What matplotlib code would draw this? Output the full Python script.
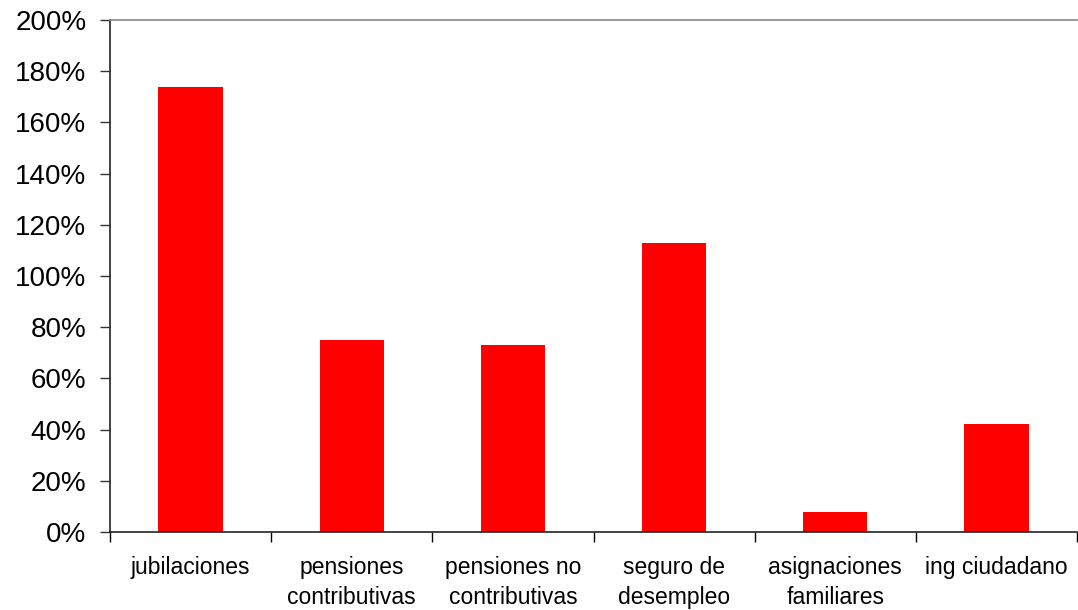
import matplotlib
matplotlib.use("Agg")
import matplotlib.pyplot as plt
from matplotlib.ticker import FuncFormatter, MultipleLocator, FixedLocator
import numpy as np

categories = ["jubilaciones", "pensiones\ncontributivas", "pensiones no\ncontributivas",
              "seguro de\ndesempleo", "asignaciones\nfamiliares", "ing ciudadano"]
values = [174, 75, 73, 113, 8, 42]

plt.rcParams['font.family'] = ['Liberation Sans', 'DejaVu Sans']

fig = plt.figure(figsize=(10.78, 6.10), dpi=100)
ax = fig.add_axes([110/1078, (610-532)/610, (1077-110)/1078, (532-20)/610])

x = np.arange(len(categories))
ax.bar(x, values, width=0.4, color='#FF0000', edgecolor='none')

ax.set_xlim(-0.5, len(categories) - 0.5)
ax.set_ylim(0, 200)
ax.yaxis.set_major_locator(MultipleLocator(20))
ax.yaxis.set_major_formatter(FuncFormatter(lambda v, p: f"{int(round(v))}%"))

ax.set_xticks(x)
ax.set_xticklabels(categories, linespacing=1.35)
ax.xaxis.set_minor_locator(FixedLocator(np.arange(-0.5, len(categories), 1.0)))
ax.tick_params(axis='x', which='major', length=0, pad=17.5, labelsize=16.5, colors='#000000')
ax.tick_params(axis='x', which='minor', length=7, width=1, direction='out', color='#000000')
ax.tick_params(axis='y', which='major', length=7, width=1, direction='out', labelsize=20, pad=10, color='#333333')

for s in ['left', 'bottom']:
    ax.spines[s].set_color('#222222')
    ax.spines[s].set_linewidth(1.2)
ax.spines['top'].set_color('#888888')
ax.spines['top'].set_linewidth(1.2)
ax.spines['right'].set_visible(False)

fig.savefig("out.png", dpi=100)
